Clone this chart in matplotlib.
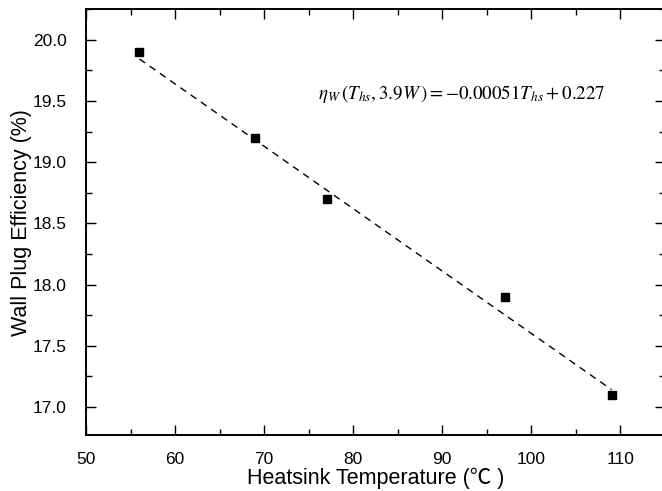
import matplotlib
matplotlib.use("Agg")
import matplotlib.pyplot as plt
from matplotlib.ticker import MultipleLocator, FormatStrFormatter

temperature = [56, 69, 77, 97, 109]
efficiency = [19.9, 19.2, 18.7, 17.9, 17.1]
fit_slope = -0.051
fit_intercept = 22.7
fit_x = [56, 109]
fit_y = [fit_intercept + fit_slope * t for t in fit_x]

plt.rcParams['font.family'] = ['Liberation Sans', 'Noto Sans CJK SC', 'DejaVu Sans']
plt.rcParams['mathtext.fontset'] = 'stix'

fig = plt.figure(figsize=(6.62, 4.91), dpi=100)
ax = fig.add_axes([86/662, 1 - 435/491, (665-86)/662, (435-9.3)/491])

ax.plot(fit_x, fit_y, linestyle=(0, (5, 4)), color='black', linewidth=1.0)
ax.plot(temperature, efficiency, linestyle='none', marker='s', markersize=6,
        color='black')

ax.set_xlim(50, 115)
ax.set_ylim(16.77, 20.25)
ax.xaxis.set_major_locator(MultipleLocator(10))
ax.xaxis.set_minor_locator(MultipleLocator(5))
ax.yaxis.set_major_locator(MultipleLocator(0.5))
ax.yaxis.set_minor_locator(MultipleLocator(0.25))
ax.yaxis.set_major_formatter(FormatStrFormatter('%.1f'))
ax.tick_params(which='both', direction='in', top=True, right=True, labelsize=12.5)
ax.tick_params(which='major', length=7, width=1)
ax.tick_params(which='minor', length=4, width=1)
ax.tick_params(axis='x', pad=12)
ax.tick_params(axis='y', pad=14)
for s in ax.spines.values():
    s.set_linewidth(1.4)

ax.set_xlabel('Heatsink Temperature (℃ )', fontsize=15.5, labelpad=1)
ax.set_ylabel('Wall Plug Efficiency (%)', fontsize=15.5, labelpad=0)

ax.text(76, 19.56, r'$\eta_W\,(T_{hs},3.9W\,) = -0.00051T_{hs} + 0.227$',
        fontsize=13.7, va='center', ha='left')

fig.savefig('out.png', dpi=100)
